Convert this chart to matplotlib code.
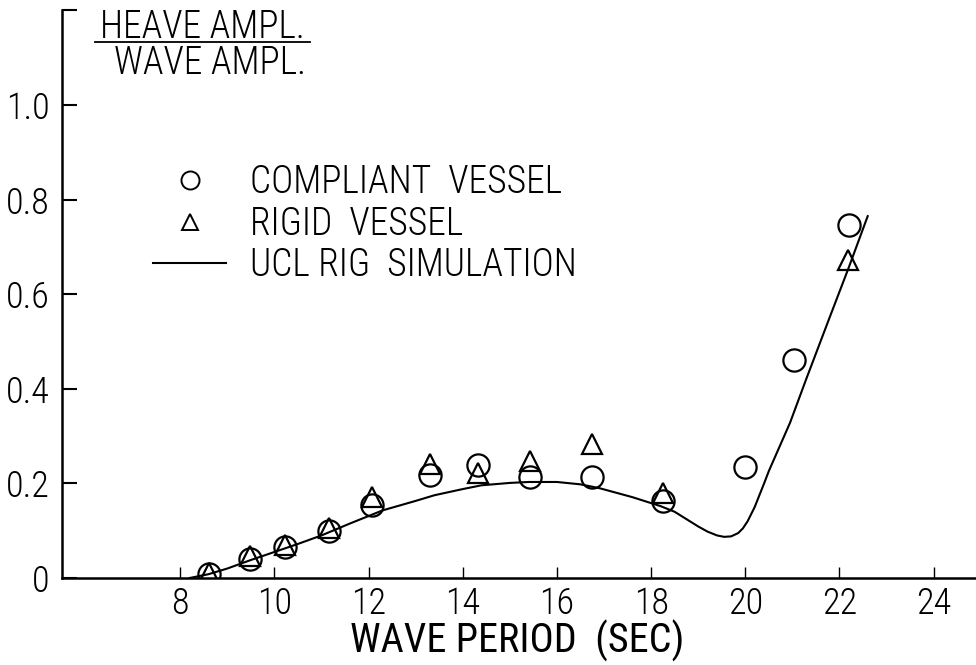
import matplotlib
matplotlib.use("Agg")
import matplotlib.pyplot as plt
from matplotlib.lines import Line2D

plt.rcParams['font.family'] = ['Roboto Condensed', 'Open Sans Condensed', 'DejaVu Sans']
plt.rcParams['font.stretch'] = 'condensed'
plt.rcParams['font.weight'] = 'light'

# heave response (heave ampl. / wave ampl.) against wave period
period_compliant = [8.62, 9.49, 10.23, 11.16, 12.08, 13.3, 14.33, 15.43, 16.75, 18.25, 20.0, 21.04, 22.21]
heave_compliant = [0.008, 0.04, 0.066, 0.10, 0.154, 0.218, 0.239, 0.214, 0.214, 0.163, 0.235, 0.461, 0.746]

period_rigid = [8.62, 9.49, 10.23, 11.16, 12.08, 13.3, 14.33, 15.43, 16.75, 18.25, 22.19]
heave_rigid = [0.01, 0.046, 0.07, 0.105, 0.171, 0.241, 0.222, 0.247, 0.283, 0.18, 0.672]

# UCL rig simulation curve
period_sim = [8.2, 8.6, 9.0, 9.5, 10.0, 10.5, 11.0, 11.6, 12.3, 13.0, 13.4, 14.0, 14.4,
              15.0, 15.4, 16.0, 16.5, 16.9, 17.6, 18.2, 18.5, 19.0, 19.2, 19.4, 19.55,
              19.7, 19.85, 19.95, 20.05, 20.2, 20.3, 20.4, 20.5, 20.95, 21.3, 21.8, 22.2, 22.6]
heave_sim = [0.0, 0.008, 0.02, 0.038, 0.055, 0.072, 0.09, 0.115, 0.143, 0.163, 0.175, 0.188, 0.196,
             0.201, 0.203, 0.203, 0.198, 0.19, 0.171, 0.152, 0.14, 0.109, 0.098, 0.09, 0.087,
             0.088, 0.095, 0.105, 0.12, 0.15, 0.175, 0.2, 0.226, 0.328, 0.422, 0.553, 0.657, 0.765]

x_ticks = [8, 10, 12, 14, 16, 18, 20, 22, 24]
y_ticks = [0, 0.2, 0.4, 0.6, 0.8, 1.0, 1.2]
y_ticklabels = ['0', '0.2', '0.4', '0.6', '0.8', '1.0', '']

W, H = 976, 665
fig = plt.figure(figsize=(W / 100, H / 100), dpi=100)
ax = fig.add_axes([62 / W, 87 / H, 1 - 62 / W, 567.6 / H])

ax.plot(period_sim, heave_sim, color='black', lw=1.5)
ax.plot(period_compliant, heave_compliant, 'o', ms=16, mfc='none', mec='black', mew=1.6)
ax.plot(period_rigid, heave_rigid, '^', ms=14, mfc='none', mec='black', mew=1.6)

ax.set_xlim(5.49, 24.9)
ax.set_ylim(0, 1.2)
ax.spines[['top', 'right']].set_visible(False)
for s in ('left', 'bottom'):
    ax.spines[s].set_linewidth(1.8)

ax.set_xticks(x_ticks)
ax.set_yticks(y_ticks)
ax.set_yticklabels(y_ticklabels)
ax.tick_params(axis='y', direction='in', length=11, width=1.5, pad=9, labelsize=26)
ax.tick_params(axis='x', direction='in', length=8, width=1, pad=6, labelsize=26)
ax.set_xlabel('WAVE PERIOD  (SEC)', fontsize=29, va='center')
ax.xaxis.set_label_coords(0.498, -63 / 567.6)

# fraction-style y label in the top left corner
fig.text(202 / W, 1 - 27 / H, 'HEAVE AMPL.', ha='center', va='center', fontsize=27)
fig.add_artist(Line2D([95 / W, 310 / W], [1 - 42 / H, 1 - 42 / H], color='black', lw=1.3))
fig.text(210 / W, 1 - 63 / H, 'WAVE AMPL.', ha='center', va='center', fontsize=27)

handles = [
    Line2D([], [], ls='none', marker='o', ms=13, mfc='none', mec='black', mew=1.4),
    Line2D([], [], ls='none', marker='^', ms=12, mfc='none', mec='black', mew=1.4),
    Line2D([], [], color='black', lw=1.5),
]
labels = ['COMPLIANT  VESSEL', 'RIGID  VESSEL', 'UCL RIG  SIMULATION']
ax.legend(handles, labels, loc='upper left', bbox_to_anchor=(153 / W, 1 - 164 / H),
          bbox_transform=fig.transFigure, frameon=False, borderpad=0, borderaxespad=0,
          fontsize=27, handlelength=1.95, handletextpad=0.65, labelspacing=0.1)

fig.savefig('out.png', dpi=100)
